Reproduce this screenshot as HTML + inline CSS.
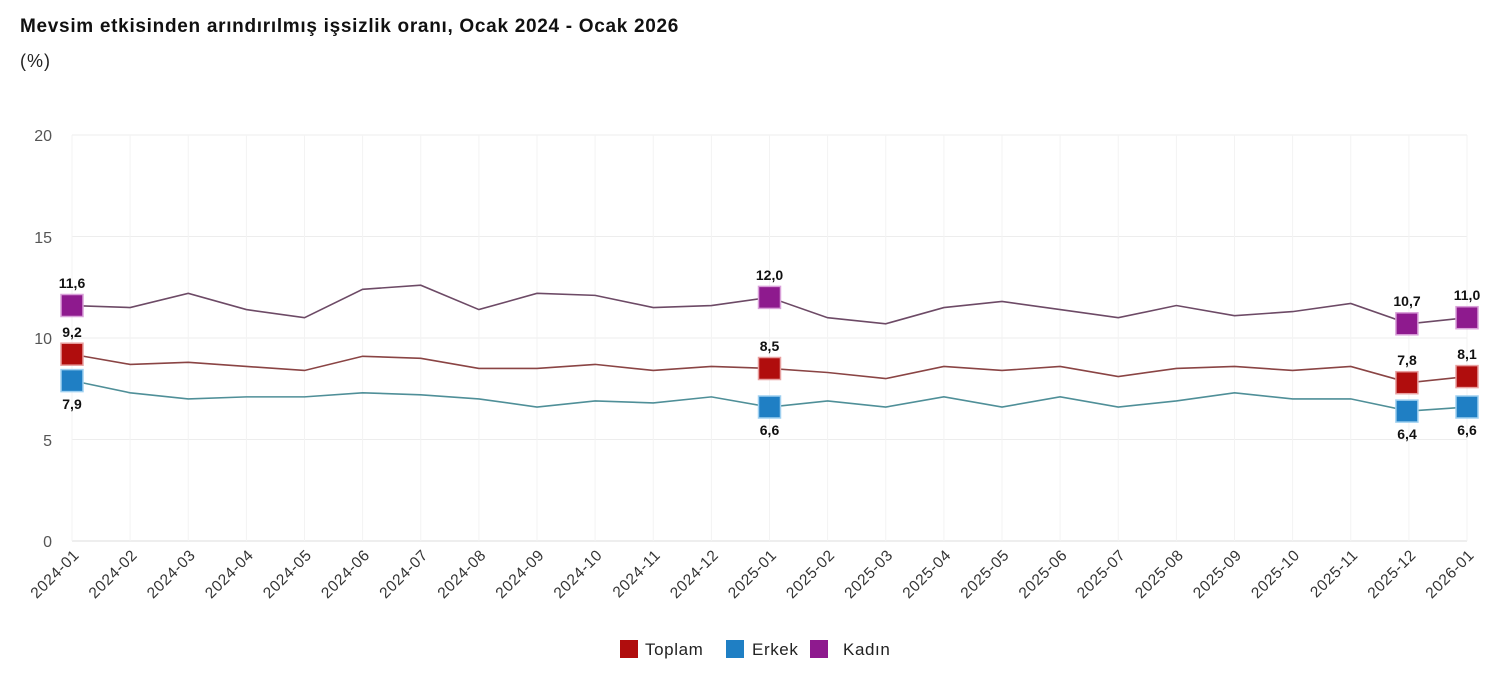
<!DOCTYPE html>
<html><head><meta charset="utf-8"><style>
body{margin:0;background:#fff;width:1508px;height:675px;overflow:hidden;font-family:"Liberation Sans",sans-serif}
</style></head><body>
<svg width="1508" height="675" xmlns="http://www.w3.org/2000/svg" font-family="Liberation Sans, sans-serif">
<text x="20" y="32" font-size="19" font-weight="bold" fill="#111" letter-spacing="0.7">Mevsim etkisinden arındırılmış işsizlik oranı, Ocak 2024 - Ocak 2026</text>
<text x="20" y="67" font-size="18" fill="#222" letter-spacing="1">(%)</text>
<g stroke="#ededed" stroke-width="1">
<line x1="72" y1="135" x2="1467" y2="135"/><line x1="72" y1="236.5" x2="1467" y2="236.5"/><line x1="72" y1="338" x2="1467" y2="338"/><line x1="72" y1="439.5" x2="1467" y2="439.5"/><line x1="72" y1="541" x2="1467" y2="541" stroke="#ddd"/>
</g>
<g stroke="#f3f3f3" stroke-width="1" id="vg"></g>
<g font-size="16" fill="#555" text-anchor="end">
<text x="52" y="141">20</text><text x="52" y="243">15</text><text x="52" y="344">10</text><text x="52" y="446">5</text><text x="52" y="547">0</text>
</g>
<g transform="translate(72,541) scale(58.125,-20.3)" fill="none" stroke-width="1.6">
<polyline vector-effect="non-scaling-stroke" stroke="#6d4a66" points="0,11.6 1,11.5 2,12.2 3,11.4 4,11.0 5,12.4 6,12.6 7,11.4 8,12.2 9,12.1 10,11.5 11,11.6 12,12.0 13,11.0 14,10.7 15,11.5 16,11.8 17,11.4 18,11.0 19,11.6 20,11.1 21,11.3 22,11.7 23,10.7 24,11.0"/>
<polyline vector-effect="non-scaling-stroke" stroke="#8a4444" points="0,9.2 1,8.7 2,8.8 3,8.6 4,8.4 5,9.1 6,9.0 7,8.5 8,8.5 9,8.7 10,8.4 11,8.6 12,8.5 13,8.3 14,8.0 15,8.6 16,8.4 17,8.6 18,8.1 19,8.5 20,8.6 21,8.4 22,8.6 23,7.8 24,8.1"/>
<polyline vector-effect="non-scaling-stroke" stroke="#4f8f98" points="0,7.9 1,7.3 2,7.0 3,7.1 4,7.1 5,7.3 6,7.2 7,7.0 8,6.6 9,6.9 10,6.8 11,7.1 12,6.6 13,6.9 14,6.6 15,7.1 16,6.6 17,7.1 18,6.6 19,6.9 20,7.3 21,7.0 22,7.0 23,6.4 24,6.6"/>
</g>
<g stroke-width="1.5">
<g fill="#8e1a8e" stroke="#d9a0d9">
<rect x="61" y="294.5" width="22" height="22"/><rect x="758.5" y="286.4" width="22" height="22"/><rect x="1395.9" y="312.8" width="22" height="22"/><rect x="1456" y="306.7" width="22" height="22"/>
</g>
<g fill="#b00d0d" stroke="#e8a0a0">
<rect x="61" y="343.2" width="22" height="22"/><rect x="758.5" y="357.5" width="22" height="22"/><rect x="1395.9" y="371.7" width="22" height="22"/><rect x="1456" y="365.6" width="22" height="22"/>
</g>
<g fill="#1f7fc4" stroke="#9fd0f0">
<rect x="61" y="369.6" width="22" height="22"/><rect x="758.5" y="396" width="22" height="22"/><rect x="1395.9" y="400.1" width="22" height="22"/><rect x="1456" y="396" width="22" height="22"/>
</g>
</g>
<g font-size="14" font-weight="bold" fill="#111" text-anchor="middle">
<text x="72" y="288">11,6</text><text x="769.5" y="280">12,0</text><text x="1407" y="306">10,7</text><text x="1467" y="300">11,0</text>
<text x="72" y="337">9,2</text><text x="769.5" y="351">8,5</text><text x="1407" y="365">7,8</text><text x="1467" y="359">8,1</text>
<text x="72" y="409">7,9</text><text x="769.5" y="435">6,6</text><text x="1407" y="439">6,4</text><text x="1467" y="435">6,6</text>
</g>
<g font-size="15.5" fill="#333" text-anchor="end" letter-spacing="0.6">
<text transform="translate(80,556) rotate(-45)">2024-01</text>
<text transform="translate(138.1,556) rotate(-45)">2024-02</text>
<text transform="translate(196.3,556) rotate(-45)">2024-03</text>
<text transform="translate(254.4,556) rotate(-45)">2024-04</text>
<text transform="translate(312.5,556) rotate(-45)">2024-05</text>
<text transform="translate(370.6,556) rotate(-45)">2024-06</text>
<text transform="translate(428.8,556) rotate(-45)">2024-07</text>
<text transform="translate(486.9,556) rotate(-45)">2024-08</text>
<text transform="translate(545,556) rotate(-45)">2024-09</text>
<text transform="translate(603.1,556) rotate(-45)">2024-10</text>
<text transform="translate(661.3,556) rotate(-45)">2024-11</text>
<text transform="translate(719.4,556) rotate(-45)">2024-12</text>
<text transform="translate(777.5,556) rotate(-45)">2025-01</text>
<text transform="translate(835.6,556) rotate(-45)">2025-02</text>
<text transform="translate(893.8,556) rotate(-45)">2025-03</text>
<text transform="translate(951.9,556) rotate(-45)">2025-04</text>
<text transform="translate(1010,556) rotate(-45)">2025-05</text>
<text transform="translate(1068.1,556) rotate(-45)">2025-06</text>
<text transform="translate(1126.3,556) rotate(-45)">2025-07</text>
<text transform="translate(1184.4,556) rotate(-45)">2025-08</text>
<text transform="translate(1242.5,556) rotate(-45)">2025-09</text>
<text transform="translate(1300.6,556) rotate(-45)">2025-10</text>
<text transform="translate(1358.8,556) rotate(-45)">2025-11</text>
<text transform="translate(1416.9,556) rotate(-45)">2025-12</text>
<text transform="translate(1475,556) rotate(-45)">2026-01</text>
</g>
<g font-size="17" fill="#222" letter-spacing="0.6">
<rect x="620" y="640" width="18" height="18" fill="#b00d0d"/><text x="645" y="655">Toplam</text>
<rect x="726" y="640" width="18" height="18" fill="#1f7fc4"/><text x="752" y="655">Erkek</text>
<rect x="810" y="640" width="18" height="18" fill="#8e1a8e"/><text x="843" y="655">Kadın</text>
</g>
<script>
var g=document.getElementById('vg');for(var i=0;i<25;i++){var x=72+58.125*i;var l=document.createElementNS('http://www.w3.org/2000/svg','line');l.setAttribute('x1',x);l.setAttribute('x2',x);l.setAttribute('y1',135);l.setAttribute('y2',541);g.appendChild(l);}
</script>
</svg>
</body></html>
